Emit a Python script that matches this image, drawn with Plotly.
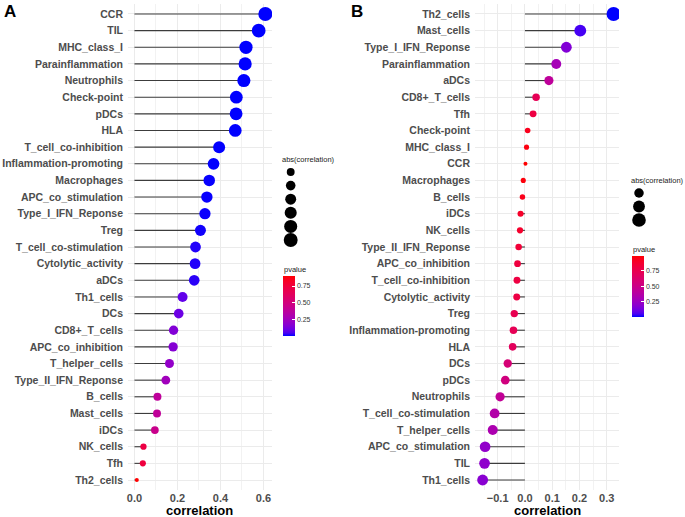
import numpy as np
import plotly.graph_objects as go

W, H = 685, 517

# ---------------- data ----------------
a_cats = ["CCR", "TIL", "MHC_class_I", "Parainflammation", "Neutrophils", "Check-point", "pDCs", "HLA",
          "T_cell_co-inhibition", "Inflammation-promoting", "Macrophages", "APC_co_stimulation",
          "Type_I_IFN_Reponse", "Treg", "T_cell_co-stimulation", "Cytolytic_activity", "aDCs", "Th1_cells",
          "DCs", "CD8+_T_cells", "APC_co_inhibition", "T_helper_cells", "Type_II_IFN_Reponse", "B_cells",
          "Mast_cells", "iDCs", "NK_cells", "Tfh", "Th2_cells"]
a_corr = [0.609, 0.578, 0.519, 0.515, 0.509, 0.474, 0.473, 0.469, 0.394, 0.368, 0.348, 0.337, 0.328, 0.307,
          0.284, 0.282, 0.278, 0.224, 0.206, 0.182, 0.180, 0.163, 0.146, 0.107, 0.105, 0.095, 0.042, 0.039, 0.011]
a_pval = [0.0, 0.0, 0.0, 0.0, 0.0, 0.0, 0.0, 0.0, 0.001, 0.002, 0.004, 0.005, 0.006, 0.01, 0.02, 0.02, 0.025,
          0.08, 0.10, 0.15, 0.16, 0.20, 0.25, 0.38, 0.39, 0.44, 0.72, 0.74, 0.90]

b_cats = ["Th2_cells", "Mast_cells", "Type_I_IFN_Reponse", "Parainflammation", "aDCs", "CD8+_T_cells", "Tfh",
          "Check-point", "MHC_class_I", "CCR", "Macrophages", "B_cells", "iDCs", "NK_cells",
          "Type_II_IFN_Reponse", "APC_co_inhibition", "T_cell_co-inhibition", "Cytolytic_activity", "Treg",
          "Inflammation-promoting", "HLA", "DCs", "pDCs", "Neutrophils", "T_cell_co-stimulation",
          "T_helper_cells", "APC_co_stimulation", "TIL", "Th1_cells"]
b_corr = [0.325, 0.203, 0.152, 0.115, 0.088, 0.041, 0.030, 0.010, 0.006, 0.002, -0.006, -0.009, -0.016, -0.018,
          -0.023, -0.027, -0.029, -0.030, -0.039, -0.042, -0.045, -0.063, -0.072, -0.091, -0.111, -0.118,
          -0.146, -0.148, -0.155]
b_pval = [0.004, 0.05, 0.17, 0.30, 0.42, 0.72, 0.80, 0.93, 0.96, 0.99, 0.97, 0.94, 0.89, 0.88, 0.84, 0.81,
          0.80, 0.79, 0.74, 0.72, 0.69, 0.58, 0.54, 0.44, 0.36, 0.33, 0.22, 0.21, 0.19]

a_size_breaks = [0.1, 0.2, 0.3, 0.4, 0.5, 0.6]
b_size_breaks = [0.1, 0.2, 0.3]
p_breaks = [0.25, 0.5, 0.75]


# ---------------- helpers ----------------
def _lin(c):
    c = c / 255.0
    return np.where(c <= 0.04045, c / 12.92, ((c + 0.055) / 1.055) ** 2.4)


def _gam(c):
    c = np.clip(c, 0, 1)
    return np.where(c <= 0.0031308, 12.92 * c, 1.055 * c ** (1 / 2.4) - 0.055) * 255


M = np.array([[0.4124, 0.3576, 0.1805], [0.2126, 0.7152, 0.0722], [0.0193, 0.1192, 0.9505]])
Minv = np.linalg.inv(M)
WP = np.array([0.95047, 1.0, 1.08883])


def rgb2lab(rgb):
    xyz = M @ _lin(np.array(rgb, float)) / WP
    f = np.where(xyz > 0.008856, np.cbrt(xyz), 7.787 * xyz + 16 / 116)
    return np.array([116 * f[1] - 16, 500 * (f[0] - f[1]), 200 * (f[1] - f[2])])


def lab2rgb(lab):
    fy = (lab[0] + 16) / 116
    f = np.array([fy + lab[1] / 500, fy, fy - lab[2] / 200])
    xyz = np.where(f ** 3 > 0.008856, f ** 3, (f - 16 / 116) / 7.787) * WP
    return _gam(Minv @ xyz)


lo_lab, hi_lab = rgb2lab([0, 0, 255]), rgb2lab([255, 0, 0])
colorscale = []
for t in np.linspace(0, 1, 21):
    r, g, b = lab2rgb(lo_lab + (hi_lab - lo_lab) * t)
    colorscale.append([float(t), f"rgb({int(round(r))},{int(round(g))},{int(round(b))})"])


def diam(vals, lo, hi):
    v = np.clip((np.abs(np.array(vals, float)) - lo) / (hi - lo), 0, 1)
    return 4 + 10 * np.sqrt(v)


def px_x(p):
    return p / W


def px_y(p):
    return 1 - p / H


FONT = "Liberation Sans, Arial, sans-serif"
GREY = "#4D4D4D"

fig = go.Figure()


def add_panel(cats, corr, pval, xa, ya, cax):
    a = np.abs(corr)
    sx, sy = [], []
    for c, v in zip(cats, corr):
        sx += [0, v, None]
        sy += [c, c, None]
    fig.add_trace(go.Scatter(x=sx, y=sy, mode="lines", line=dict(color="#3c3c3c", width=1.1),
                             xaxis=xa, yaxis=ya, hoverinfo="skip", showlegend=False))
    fig.add_trace(go.Scatter(x=corr, y=cats, mode="markers", xaxis=xa, yaxis=ya, showlegend=False,
                             marker=dict(size=diam(corr, a.min(), a.max()), sizemode="diameter",
                                         color=pval, coloraxis=cax, line=dict(width=0), opacity=1)))
    return a.min(), a.max()


a_lo, a_hi = add_panel(a_cats, a_corr, a_pval, "x", "y", "coloraxis")
b_lo, b_hi = add_panel(b_cats, b_corr, b_pval, "x2", "y2", "coloraxis2")

# size legends (drawn on helper axes)
fig.add_trace(go.Scatter(x=[0] * len(a_size_breaks), y=a_size_breaks, mode="markers", xaxis="x3", yaxis="y3",
                         marker=dict(size=diam(a_size_breaks, a_lo, a_hi), color="#000000", opacity=1,
                                     line=dict(width=0)),
                         showlegend=False, hoverinfo="skip"))
fig.add_trace(go.Scatter(x=[0] * len(b_size_breaks), y=b_size_breaks, mode="markers", xaxis="x4", yaxis="y4",
                         marker=dict(size=diam(b_size_breaks, b_lo, b_hi), color="#000000", opacity=1,
                                     line=dict(width=0)),
                         showlegend=False, hoverinfo="skip"))

tickfont = dict(family=FONT, size=10.5, color=GREY, weight="bold")
xtickfont = dict(family=FONT, size=11, color=GREY, weight="bold")
grid = dict(showgrid=True, gridcolor="#EBEBEB", gridwidth=1, zeroline=False, showline=False, ticks="",
            automargin=False)


def yax(cats, y0, y1):
    return dict(domain=[px_y(y1), px_y(y0)], type="category", categoryorder="array",
                categoryarray=list(reversed(cats)), range=[-0.6, len(cats) - 0.4], tickfont=tickfont,
                ticklabelstandoff=4, **grid)


layout = dict(
    width=W, height=H, template="none", paper_bgcolor="white", plot_bgcolor="white",
    margin=dict(l=0, r=0, t=0, b=0), showlegend=False,
    xaxis=dict(domain=[px_x(128), px_x(272)], range=[-0.03, 0.64], anchor="y", tick0=0, dtick=0.2,
               tickformat=".1f", tickfont=xtickfont,
               minor=dict(dtick=0.1, tick0=0, showgrid=True, gridcolor="#F2F2F2", gridwidth=0.6), **grid),
    yaxis=dict(anchor="x", **yax(a_cats, 4, 490)),
    xaxis2=dict(domain=[px_x(475), px_x(619)], range=[-0.183, 0.345], anchor="y2", tick0=0, dtick=0.1,
                tickformat=".1f", tickfont=xtickfont,
                minor=dict(dtick=0.05, tick0=0, showgrid=True, gridcolor="#F2F2F2", gridwidth=0.6), **grid),
    yaxis2=dict(anchor="x2", **yax(b_cats, 4, 490)),
    # helper axes for size legends: A legend items at y px 172..240, B at 193..220
    xaxis3=dict(domain=[px_x(280), px_x(300)], range=[-10.7, 9.3], visible=False, anchor="y3"),
    yaxis3=dict(domain=[px_y(250), px_y(160)], range=[0.1 + 78 / 136, 0.1 - 12 / 136], visible=False,
                anchor="x3"),
    xaxis4=dict(domain=[px_x(629), px_x(649)], range=[-10, 10], visible=False, anchor="y4"),
    yaxis4=dict(domain=[px_y(240), px_y(180)], range=[0.1 + 47 / 135, 0.1 - 13 / 135], visible=False,
                anchor="x4"),
    coloraxis=dict(colorscale=colorscale, cmin=min(a_pval), cmax=max(a_pval),
                   colorbar=dict(x=px_x(282.7), xanchor="left", xpad=0, y=px_y(276), yanchor="top", ypad=0,
                                 len=60, lenmode="pixels", thickness=12, outlinewidth=0,
                                 tickvals=p_breaks, ticktext=[f"{v:.2f}" for v in p_breaks],
                                 ticks="inside", ticklen=3, tickcolor="white", tickwidth=1,
                                 tickfont=dict(family=FONT, size=7, color="#333333"))),
    coloraxis2=dict(colorscale=colorscale, cmin=min(b_pval), cmax=max(b_pval),
                    colorbar=dict(x=px_x(631.7), xanchor="left", xpad=0, y=px_y(256), yanchor="top", ypad=0,
                                  len=61, lenmode="pixels", thickness=12, outlinewidth=0,
                                  tickvals=p_breaks, ticktext=[f"{v:.2f}" for v in p_breaks],
                                  ticks="inside", ticklen=3, tickcolor="white", tickwidth=1,
                                  tickfont=dict(family=FONT, size=7, color="#333333"))),
)

ann = []
ann.append(dict(text="A", x=px_x(2), y=px_y(12), xref="paper", yref="paper", xanchor="left", yanchor="middle",
                showarrow=False, font=dict(family=FONT, size=17, color="black", weight="bold")))
ann.append(dict(text="B", x=px_x(349), y=px_y(11), xref="paper", yref="paper", xanchor="left", yanchor="middle",
                showarrow=False, font=dict(family=FONT, size=17, color="black", weight="bold")))
for cx in (200, 547):
    ann.append(dict(text="correlation", x=px_x(cx), y=px_y(510), xref="paper", yref="paper", xanchor="center",
                    yanchor="middle", showarrow=False,
                    font=dict(family=FONT, size=13, color="black", weight="bold")))
for (tx, ty, t) in [(280, 159, "abs(correlation)"), (282, 269, "pvalue"),
                    (629, 181, "abs(correlation)"), (630.5, 249, "pvalue")]:
    ann.append(dict(text=t, x=px_x(tx), y=px_y(ty), xref="paper", yref="paper", xanchor="left",
                    yanchor="middle", showarrow=False, font=dict(family=FONT, size=7.5, color="#1a1a1a")))
for v in a_size_breaks:
    ann.append(dict(text=f"{v:.1f}", x=11, y=v, xref="x3", yref="y3", xanchor="left",
                    yanchor="middle", showarrow=False, font=dict(family=FONT, size=7, color="#333333")))
for v in b_size_breaks:
    ann.append(dict(text=f"{v:.1f}", x=11, y=v, xref="x4", yref="y4", xanchor="left",
                    yanchor="middle", showarrow=False, font=dict(family=FONT, size=7, color="#333333")))
layout["annotations"] = ann

fig.update_layout(**layout)
fig.write_html("out.html", config={"displayModeBar": False},
               post_script="document.body.style.margin='0';document.body.style.overflow='hidden';")
